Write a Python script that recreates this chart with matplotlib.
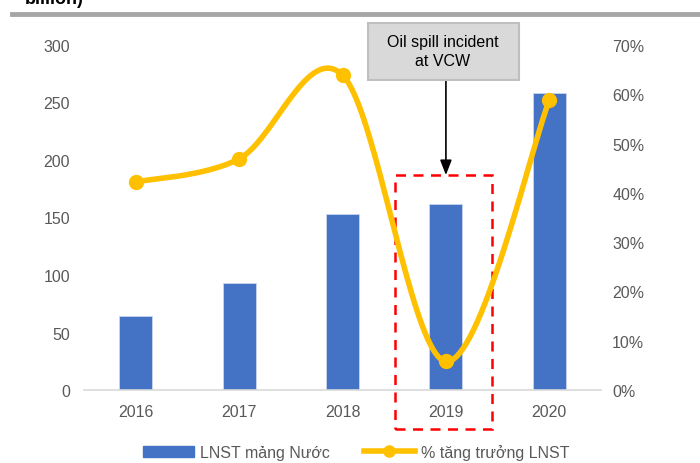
import matplotlib.pyplot as plt
import numpy as np
from matplotlib.lines import Line2D
from matplotlib.patches import Patch, Rectangle

plt.rcParams['font.family'] = ['Liberation Sans', 'DejaVu Sans']

years = ['2016', '2017', '2018', '2019', '2020']
profit = [64, 93, 153, 162, 258]              # LNST mảng Nước (tỷ đồng)
growth = [42.2, 46.9, 63.9, 5.8, 58.8]        # % tăng trưởng LNST

BLUE = '#4472c4'
GOLD = '#ffc000'
GRAY_TXT = '#595959'
FS = 11.5


def smooth_curve(xs, ys, n=40):
    # Excel-style smoothed line (Catmull-Rom through the points)
    xs = np.asarray(xs, float)
    ys = np.asarray(ys, float)
    px = np.concatenate([[xs[0]], xs, [xs[-1]]])
    py = np.concatenate([[ys[0]], ys, [ys[-1]]])
    out_x, out_y = [], []
    t = np.linspace(0, 1, n)
    for i in range(1, len(px) - 2):
        p0, p3 = np.array([px[i], py[i]]), np.array([px[i + 1], py[i + 1]])
        c1 = p0 + (np.array([px[i + 1], py[i + 1]]) - np.array([px[i - 1], py[i - 1]])) / 6
        c2 = p3 - (np.array([px[i + 2], py[i + 2]]) - np.array([px[i], py[i]])) / 6
        b = ((1 - t) ** 3)[:, None] * p0 + (3 * (1 - t) ** 2 * t)[:, None] * c1 \
            + (3 * (1 - t) * t ** 2)[:, None] * c2 + (t ** 3)[:, None] * p3
        out_x.extend(b[:, 0])
        out_y.extend(b[:, 1])
    return out_x, out_y


fig = plt.figure(figsize=(7, 4.64), dpi=100)
ax = fig.add_axes([0.12, 0.1573, 0.7386, 0.7436])
x = np.arange(len(years))

ax.bar(x, profit, width=0.32, color=BLUE, edgecolor='#c9d5ee', lw=0.6, zorder=2)
ax.set_xlim(-0.5, len(years) - 0.5)
ax.set_ylim(0, 300)
ax.set_yticks(range(0, 301, 50))
ax.set_xticks(x)
ax.set_xticklabels(years)
for s in ['top', 'right', 'left']:
    ax.spines[s].set_visible(False)
ax.spines['bottom'].set_color('#d9d9d9')
ax.spines['bottom'].set_linewidth(1.2)
ax.tick_params(axis='both', length=0, labelsize=FS, colors=GRAY_TXT)
ax.tick_params(axis='y', pad=10)
ax.tick_params(axis='x', pad=10)

ax2 = ax.twinx()
ax2.set_ylim(0, 70)
ax2.set_yticks(range(0, 71, 10))
ax2.set_yticklabels([f'{v}%' for v in range(0, 71, 10)])
for s in ax2.spines.values():
    s.set_visible(False)
ax2.tick_params(axis='y', length=0, labelsize=FS, colors=GRAY_TXT, pad=8)

sx, sy = smooth_curve(x, growth)
ax2.plot(sx, sy, color=GOLD, lw=4, solid_capstyle='round', zorder=3)
ax2.plot(x, growth, 'o', color=GOLD, ms=10, zorder=4)

# dashed red box around 2019
box = Rectangle((2.508, -0.113), 0.938, 0.736, transform=ax.get_xaxis_transform(),
                fill=False, edgecolor='#ff0000', lw=1.8, ls=(0, (4, 3)),
                clip_on=False, zorder=5)
ax.add_patch(box)

# annotation box + arrow
fig.add_artist(Rectangle((368 / 700, 1 - 81 / 464), 151 / 700, 57 / 464,
                         transform=fig.transFigure, fc='#d9d9d9', ec='#bfbfbf', lw=1.5))
fig.text(443 / 700, 1 - 52 / 464, 'Oil spill incident\nat VCW', ha='center', va='center',
         fontsize=FS, color='#000000', linespacing=1.3)
ax.annotate('', xy=(3.0, 0.623), xycoords=ax.get_xaxis_transform(),
            xytext=(3.0, 0.9455), textcoords=ax.get_xaxis_transform(),
            arrowprops=dict(arrowstyle='-|>,head_length=0.9,head_width=0.35',
                            color='black', lw=1.2, shrinkA=0, shrinkB=0), zorder=6)

# header remnants
fig.text(0.036, 1.0, 'billion)', fontsize=13, fontweight='bold', va='center', ha='left')
fig.add_artist(Line2D([12 / 700, 1], [1 - 15 / 464] * 2, color='#a6a6a6', lw=3.5,
                      transform=fig.transFigure))

handles = [Patch(color=BLUE),
           Line2D([], [], color=GOLD, lw=4, marker='o', ms=8)]
fig.legend(handles, ['LNST mảng Nước', '% tăng trưởng LNST'], loc='center',
           bbox_to_anchor=(0.509, 1 - 453 / 464), ncol=2, frameon=False,
           fontsize=FS, labelcolor=GRAY_TXT, handlelength=3.2, columnspacing=2.1,
           handletextpad=0.4)

fig.savefig('out.png', dpi=100)
